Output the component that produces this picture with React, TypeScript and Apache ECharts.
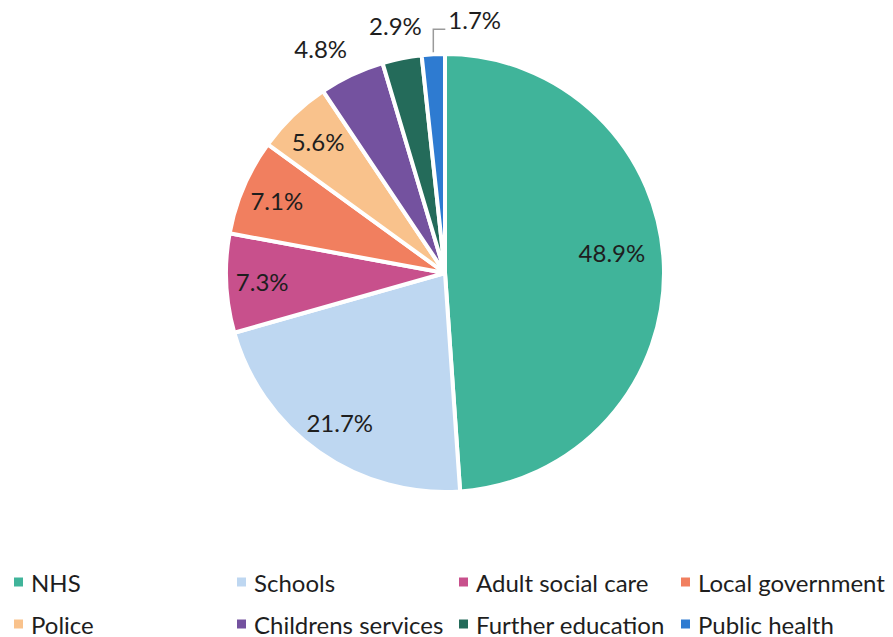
import React, { useEffect, useRef } from "react";
import * as echarts from "echarts";

const categories = [
  "NHS",
  "Schools",
  "Adult social care",
  "Local government",
  "Police",
  "Childrens services",
  "Further education",
  "Public health",
];
const values = [48.9, 21.7, 7.3, 7.1, 5.6, 4.8, 2.9, 1.7];
const colors = [
  "#40B49A",
  "#BED7F1",
  "#C8508C",
  "#F17F5F",
  "#F9C28C",
  "#74529F",
  "#246B5A",
  "#2E7BD1",
];
// which labels sit inside the slice, which outside without a line, which with a line
const insideLabels = [0, 1, 2, 3, 4];
const outsideLabels = [5, 6];
const lineLabels = [7];

// legend grid: 4 columns, 2 rows (item i -> row floor(i/4), column i%4)
const legendLefts = [12, 235, 457, 679];
const legendTops = [570, 612];

const FONT = "Lato, 'Noto Sans', sans-serif";
const TEXT = "#1e1e1e";

export default function App() {
  const ref = useRef<HTMLDivElement>(null);
  useEffect(() => {
    document.body.style.margin = "0";
    if (!ref.current) return;
    const chart = echarts.init(ref.current, null, { renderer: "svg" });
    const center = [445, 273];
    const labelStyle = {
      color: TEXT,
      fontSize: 24,
      fontFamily: FONT,
      formatter: "{c}%",
    };

    const mainData = categories.map((name, i) => ({
      name,
      value: values[i],
      itemStyle: { color: colors[i] },
      label: { show: lineLabels.includes(i) },
      labelLine: { show: lineLabels.includes(i) },
    }));
    const innerData = categories.map((name, i) => ({
      name,
      value: values[i],
      label: { show: insideLabels.includes(i) },
    }));
    const outerData = categories.map((name, i) => ({
      name,
      value: values[i],
      label: { show: outsideLabels.includes(i) },
    }));

    const option: any = {
      animation: false,
      textStyle: { fontFamily: FONT },
      legend: categories.map((name, i) => ({
        data: [name],
        orient: "horizontal",
        left: legendLefts[i % 4],
        top: legendTops[Math.floor(i / 4)],
        padding: 0,
        itemWidth: 11,
        itemHeight: 11,
        icon: "rect",
        selectedMode: false,
        textStyle: {
          fontSize: 24,
          color: TEXT,
          fontFamily: FONT,
          lineHeight: 24,
          padding: [0, 0, 0, 2],
        },
      })),
      series: [
        {
          type: "pie",
          center,
          radius: [0, 219],
          startAngle: 90,
          clockwise: true,
          avoidLabelOverlap: false,
          itemStyle: { borderColor: "#ffffff", borderWidth: 4 },
          label: { ...labelStyle, position: "outside" },
          labelLine: {
            length: 20,
            length2: 10,
            lineStyle: { color: "#9a9a9a", width: 1.5 },
          },
          labelLayout: (p: any) => {
            const pts = p.labelLinePoints;
            if (!pts || !pts.length) return {};
            const p0 = pts[0];
            const up = [p0[0], p0[1] - 25];
            const right = [p0[0] + 12, p0[1] - 25];
            return {
              x: p0[0] + 15,
              y: p0[1] - 35,
              align: "left",
              verticalAlign: "middle",
              labelLinePoints: [p0, up, right],
            };
          },
          data: mainData,
        },
        {
          type: "pie",
          center,
          radius: [143, 217],
          startAngle: 90,
          clockwise: true,
          silent: true,
          avoidLabelOverlap: false,
          itemStyle: { color: "rgba(0,0,0,0)", borderWidth: 0 },
          label: { ...labelStyle, position: "inside" },
          labelLine: { show: false },
          labelLayout: (p: any) =>
            p.dataIndex === 0 ? { dx: -16, dy: -14 } : {},
          data: innerData,
        },
        {
          type: "pie",
          center,
          radius: [238, 260],
          startAngle: 90,
          clockwise: true,
          silent: true,
          avoidLabelOverlap: false,
          itemStyle: { color: "rgba(0,0,0,0)", borderWidth: 0 },
          label: { ...labelStyle, position: "inside" },
          labelLine: { show: false },
          labelLayout: (p: any) =>
            p.dataIndex === 5 ? { dx: -17, dy: 4 } : {},
          data: outerData,
        },
      ],
    };
    chart.setOption(option);
    return () => chart.dispose();
  }, []);
  return <div ref={ref} style={{ width: 893, height: 637 }} />;
}
